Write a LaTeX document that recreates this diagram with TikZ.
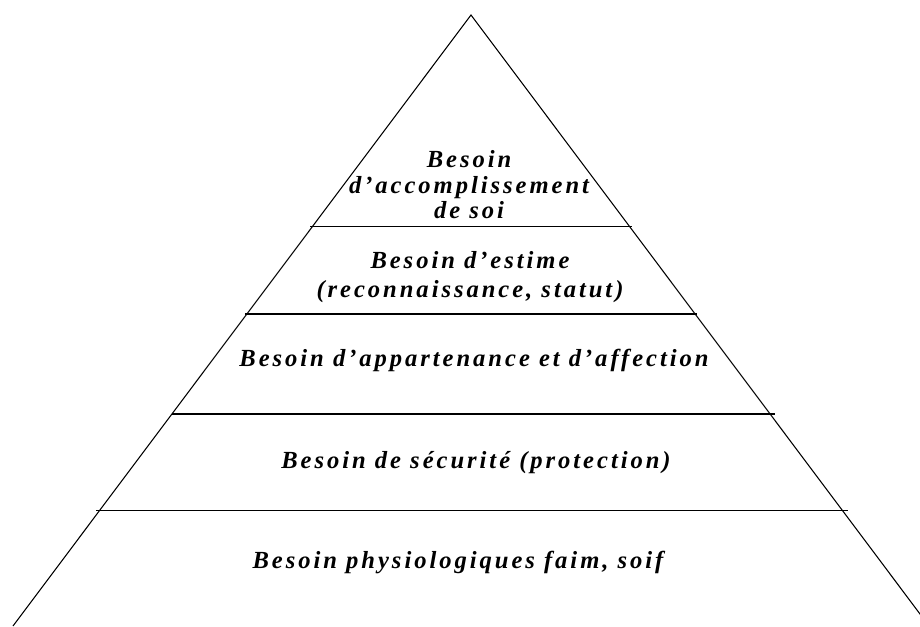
\documentclass[tikz,border=0pt]{standalone}
\usepackage{fontspec}
\newfontfamily\pyrfont{Liberation Serif}[LetterSpace=12]
\begin{document}
\begin{tikzpicture}[line width=0.6pt,
  lbl/.style={align=center, font=\pyrfont\bfseries\itshape\fontsize{14}{14.5}\selectfont}]
\useasboundingbox (0,0) rectangle (18.4,12.52);
\clip (0,0) rectangle (18.4,12.52);
% pyramid sides
\coordinate (apex) at (9.42,12.22);
\coordinate (bl) at (0.26,0);
\coordinate (br) at (18.58,0);
\draw (bl) -- (apex) -- (br);
% levels
\draw (6.2,7.986) -- (12.64,7.986);
\draw (4.9,6.24) -- (13.94,6.24);
\draw (3.44,4.24) -- (15.5,4.24);
\draw (1.92,2.306) -- (16.96,2.306);
% labels
\node[lbl] (soi) at (9.38,8.82) {Besoin\\d’accomplissement\\de soi};
\node[lbl] (estime) at (9.4,6.98) {Besoin d’estime\\[2pt](reconnaissance, statut)};
\node[lbl] (appart) at (9.48,5.32) {Besoin d’appartenance et d’affection};
\node[lbl] (secu) at (9.52,3.26) {Besoin de sécurité (protection)};
\node[lbl] (physio) at (9.16,1.28) {Besoin physiologiques faim, soif};
\end{tikzpicture}
\end{document}
